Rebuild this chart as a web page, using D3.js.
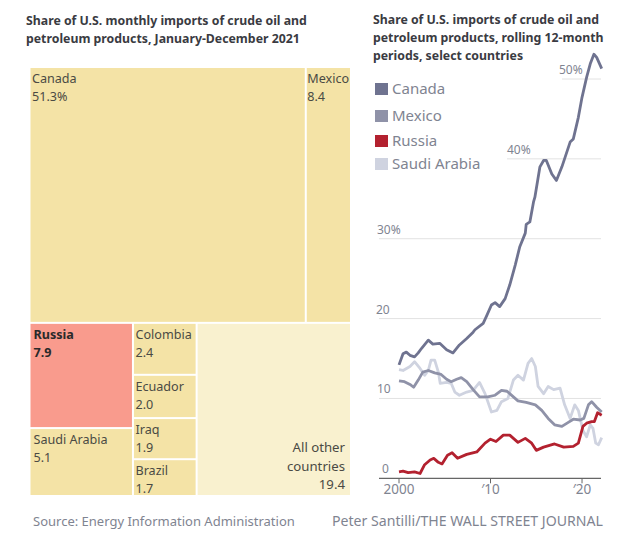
<!DOCTYPE html>
<html><head><meta charset="utf-8">
<script src="https://cdn.jsdelivr.net/npm/d3@7"></script>
<style>html,body{margin:0;padding:0;background:#fff}svg{display:block}text{font-family:"Noto Sans",sans-serif}</style>
</head><body><svg id="c" width="630" height="543"></svg>
<script>
const leftTitle=["Share of U.S. monthly imports of crude oil and","petroleum products, January-December 2021"];
const rightTitle=["Share of U.S. imports of crude oil and","petroleum products, rolling 12-month","periods, select countries"];
const topCountries=["Canada","Mexico"], topValues=[51.3,8.4], topLabels=["51.3%","8.4"];
const leftCountries=["Russia","Saudi Arabia"], leftValues=[7.9,5.1];
const midCountries=["Colombia","Ecuador","Iraq","Brazil"], midValues=[2.4,2.0,1.9,1.7];
const otherValue=19.4;
const yTicks=[0,10,20,30,40,50], yTickLabels=["0","10","20","30%","40%","50%"];
const xTicks=[0,10,20], xTickLabels=["2000","\u203210","\u203220"];
const seriesNames=["Canada","Mexico","Russia","Saudi Arabia"];
const canadaYears=[0,.44,.8,1.2,1.7,2.1,2.45,3.2,3.7,4.45,5.2,5.9,6.6,7.4,8.1,8.3,9.2,9.6,10.1,10.5,11,11.6,12.1,12.7,13.2,13.8,13.9,14.3,14.7,14.85,15.4,15.8,16.1,16.7,17.2,17.8,18.7,19.05,19.6,20,20.5,20.9,21.3,21.6,22.15];
const canadaValues=[14.2,15.6,15.8,15.4,15.2,15.7,16.25,17.3,16.8,16.9,16.1,15.7,16.7,17.5,18.3,18.6,19.4,20.4,21.7,22,21.5,22.5,24.2,26.7,29,30.7,31.8,32.1,34.6,35.2,39,39.8,39.8,38.1,37.3,39,42.1,42.5,45.2,47.7,50.2,51.9,53.1,52.7,51.3];
const mexicoYears=[0,.6,1.2,1.6,2.1,2.6,3.2,3.9,4.6,5.2,5.7,6.3,6.8,7.4,8.1,8.8,9.7,10.5,11.2,11.8,12.5,13,13.9,14.9,15.6,16.3,17,17.8,18.5,19.05,19.8,20.2,20.7,21.05,21.6,22.15];
const mexicoValues=[12.2,12.1,11.75,11.4,12.3,13.3,13.5,13.2,13,12.4,12.1,12.4,12.6,12.1,11.1,10.2,10.2,10.4,11,10.9,10.2,9.7,9.5,9.2,8.5,7.5,6.7,6.5,7,7.4,7.3,7.5,9.2,9.6,8.9,8.3];
const russiaYears=[0,.44,1,1.7,2.3,2.8,3.4,3.8,4.3,4.7,5.3,5.8,6.4,7.4,8.5,9.4,10,10.6,11.4,12.1,13,13.8,14.5,15,15.8,17,18,19.05,19.6,20.1,20.5,21.05,21.35,21.7,22.15];
const russiaValues=[.8,.9,.7,.8,.6,1.7,2.3,2.5,2,1.8,2.9,3.2,2.5,3,3.3,4.4,4.9,4.6,5.4,5.4,4.5,5,4.4,3.5,3.9,4.3,3.9,4,4.4,6.5,6.9,7.1,7.1,8.2,7.9];
const saudiYears=[0,.44,1.2,1.7,2.3,2.8,3.2,3.5,3.9,4.3,4.5,5.2,5.7,6.1,6.6,7.4,8.1,8.8,9.4,10.1,10.7,11.2,11.9,12.5,13,13.6,14.1,14.5,14.9,15.2,15.8,16.3,16.9,17.6,18.1,18.7,19.2,19.6,20.1,20.5,20.9,21.2,21.5,21.8,22.15];
const saudiValues=[13.6,13.5,14,14.6,13.75,12.9,13.5,14.8,14.8,13.3,11.9,12,11.9,10.8,10.4,10.8,11,12,10.6,8.3,8.5,9.6,10,12.3,12.9,12.3,14.4,15,14,11.5,10.6,11.5,11.1,11.3,9.2,7.5,9.2,8.5,6,5.2,6.7,6.25,4.4,4.2,5.1];

const C={title:"#3a3b42",ink:"#4a4a44",yellow:"#f4e3a6",pale:"#f9f1cf",red:"#f99b8d",
  canada:"#6f7390",mexico:"#8f92a8",russia:"#b3212f",saudi:"#cfd3e0",grid:"#e2e2e2",axis:"#666",muted:"#7f8491"};
const svg=d3.select("#c");

function lines(arr,x,y,lh,attrs){arr.forEach((t,i)=>{const e=svg.append("text").attr("x",x).attr("y",y+i*lh).text(t);Object.entries(attrs).forEach(([k,v])=>e.attr(k,v));});}
lines(leftTitle,26,25,18,{"font-size":12.3,"font-weight":700,fill:C.title});
lines(rightTitle,373,24,18,{"font-size":12.3,"font-weight":700,fill:C.title});

// treemap
const leaves=(names,vals,g)=>names.map((n,i)=>({name:n,value:vals[i],group:g}));
const rootData={children:[
 {children:leaves(topCountries,topValues,"top")},
 {children:[{children:leaves(leftCountries,leftValues,"left")},{children:leaves(midCountries,midValues,"mid")},{name:"All other countries",value:otherValue,group:"other"}]}
]};
const tile=(node,x0,y0,x1,y1)=>{(node.depth%2===0?d3.treemapSlice:d3.treemapDice)(node,x0,y0,x1,y1);};
const root=d3.hierarchy(rootData).sum(d=>d.value||0);
d3.treemap().tile(tile).size([319.5,427]).paddingInner(2).round(false)(root);
const tm=svg.append("g").attr("transform","translate(30.5,68)");
const cells=tm.selectAll("g").data(root.leaves()).join("g").attr("transform",d=>`translate(${d.x0},${d.y0})`);
cells.append("rect").attr("width",d=>d.x1-d.x0).attr("height",d=>d.y1-d.y0)
 .attr("fill",d=>d.data.name==="Russia"?C.red:d.data.group==="other"?C.pale:C.yellow);
const tmFont=12.6;
cells.each(function(d){
  const g=d3.select(this), n=d.data.name;
  if(d.data.group==="other"){
    ["All other","countries",String(d.data.value)].forEach((t,i)=>g.append("text").attr("x",d.x1-d.x0-5).attr("y",d.y1-d.y0-43+i*18.7)
      .attr("text-anchor","end").attr("font-size",13.2).attr("fill",C.ink).text(t));
    return;
  }
  const pad=d.data.group==="left"?3:(n==="Mexico"?0.5:1.5);
  const idx=topCountries.indexOf(n);
  const val=idx>=0?topLabels[idx]:d.data.value.toFixed(1);
  const bold=n==="Russia";
  g.append("text").attr("x",pad).attr("y",15).attr("font-size",tmFont).attr("font-weight",bold?700:400).attr("fill",bold?"#2a2a2a":C.ink).text(n);
  g.append("text").attr("x",pad).attr("y",33).attr("font-size",tmFont).attr("font-weight",bold?700:400).attr("fill",bold?"#2a2a2a":C.ink).text(val);
});

// line chart
const x=d3.scaleLinear().domain([0,22.15]).range([399,601.7]);
const y=d3.scaleLinear().domain([0,50]).range([478.3,79]);
const gridStart={0:379,10:379,20:379,30:379,40:507,50:562};
const labelX={0:382,10:377,20:376,30:377,40:507,50:559};
yTicks.forEach((v,i)=>{
  svg.append("line").attr("x1",gridStart[v]).attr("x2",601).attr("y1",y(v)).attr("y2",y(v))
    .attr("stroke",v===0?C.axis:C.grid).attr("stroke-width",v===0?1.2:1);
  svg.append("text").attr("x",labelX[v]).attr("y",y(v)-5).attr("font-size",12).attr("fill",C.muted).text(yTickLabels[i]);
});
xTicks.forEach((v,i)=>{
  svg.append("line").attr("x1",x(v)).attr("x2",x(v)).attr("y1",y(0)).attr("y2",y(0)+5).attr("stroke",C.axis);
  svg.append("text").attr("x",x(v)).attr("y",y(0)+16).attr("text-anchor","middle").attr("font-size",13.5).attr("fill",C.muted).text(xTickLabels[i]);
});
const line=d3.line().x(d=>x(d[0])).y(d=>y(d[1])).curve(d3.curveLinear);
const zipS=(a,b)=>a.map((t,i)=>[t,b[i]]);
[[saudiYears,saudiValues,C.saudi],[mexicoYears,mexicoValues,C.mexico],[canadaYears,canadaValues,C.canada],[russiaYears,russiaValues,C.russia]].forEach(([a,b,c])=>{
  svg.append("path").attr("d",line(zipS(a,b))).attr("fill","none").attr("stroke",c).attr("stroke-width",2.8).attr("stroke-linejoin","round");
});
// legend
const legendY=[89,116,141,164], legendC=[C.canada,C.mexico,C.russia,C.saudi];
seriesNames.forEach((n,i)=>{
  svg.append("rect").attr("x",375).attr("y",legendY[i]-6).attr("width",13).attr("height",12).attr("fill",legendC[i]);
  svg.append("text").attr("x",392).attr("y",legendY[i]+5).attr("font-size",15).attr("fill",C.muted).text(n);
});
// footer
svg.append("text").attr("x",33).attr("y",526).attr("font-size",13).attr("fill",C.muted).text("Source: Energy Information Administration");
svg.append("text").attr("x",603).attr("y",526).attr("text-anchor","end").attr("font-size",13.5).attr("textLength",271).attr("lengthAdjust","spacingAndGlyphs").attr("fill",C.muted).text("Peter Santilli/THE WALL STREET JOURNAL");
</script></body></html>
